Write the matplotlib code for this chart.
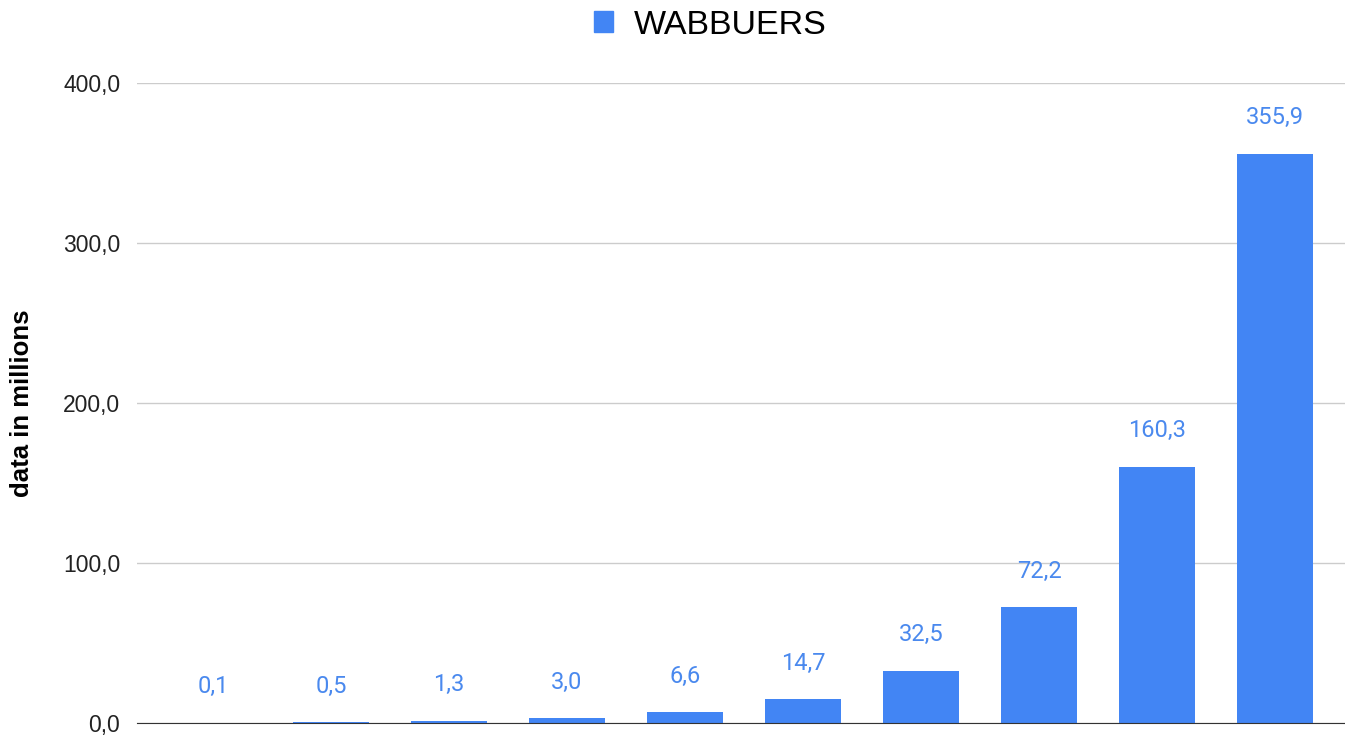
import numpy as np
import matplotlib.pyplot as plt
from matplotlib.patches import Patch

values = [0.1, 0.5, 1.3, 3.0, 6.6, 14.7, 32.5, 72.2, 160.3, 355.9]
series_name = 'WABBUERS'
y_ticks = [0, 100, 200, 300, 400]
bar_color = '#4285F4'

fig = plt.figure(figsize=(13.45, 7.36), dpi=100)
ax = fig.add_axes([137 / 1345, 1 - 723 / 736, (1345 - 137) / 1345, 640 / 736])

x = np.arange(len(values))
bars = ax.bar(x, values, width=0.644, color=bar_color, zorder=3)

for xi, v in zip(x, values):
    ax.annotate(f'{v:.1f}'.replace('.', ','), (xi, v), xytext=(0, 26),
                textcoords='offset points', ha='center', va='center',
                color='#4a89ee', fontsize=17, family='Roboto')

ax.set_xlim(-0.644, 9.593)
ax.set_ylim(0, 400)
ax.set_yticks(y_ticks)
ax.set_yticklabels([f'{t:.1f}'.replace('.', ',') for t in y_ticks],
                   fontsize=16.5, family='Liberation Sans', color='#222222')
ax.set_xticks([])
ax.tick_params(axis='y', length=0, pad=12)
ax.grid(axis='y', color='#cccccc', linewidth=1, zorder=0)
for s in ['top', 'right', 'left']:
    ax.spines[s].set_visible(False)
ax.spines['bottom'].set_color('#333333')
ax.spines['bottom'].set_zorder(4)

ax.set_ylabel('data in millions', fontsize=18.5, fontweight='bold',
              family='Liberation Sans')
ax.yaxis.set_label_coords(-0.085, 0.5)

fig.legend(handles=[Patch(color=bar_color)], labels=[series_name],
           loc='center', bbox_to_anchor=(0.528, 1 - 25 / 736), frameon=False,
           prop={'family': 'Liberation Sans', 'size': 24.5},
           handlelength=0.55, handleheight=0.55, handletextpad=0.6)

fig.savefig('out.png', dpi=100)
